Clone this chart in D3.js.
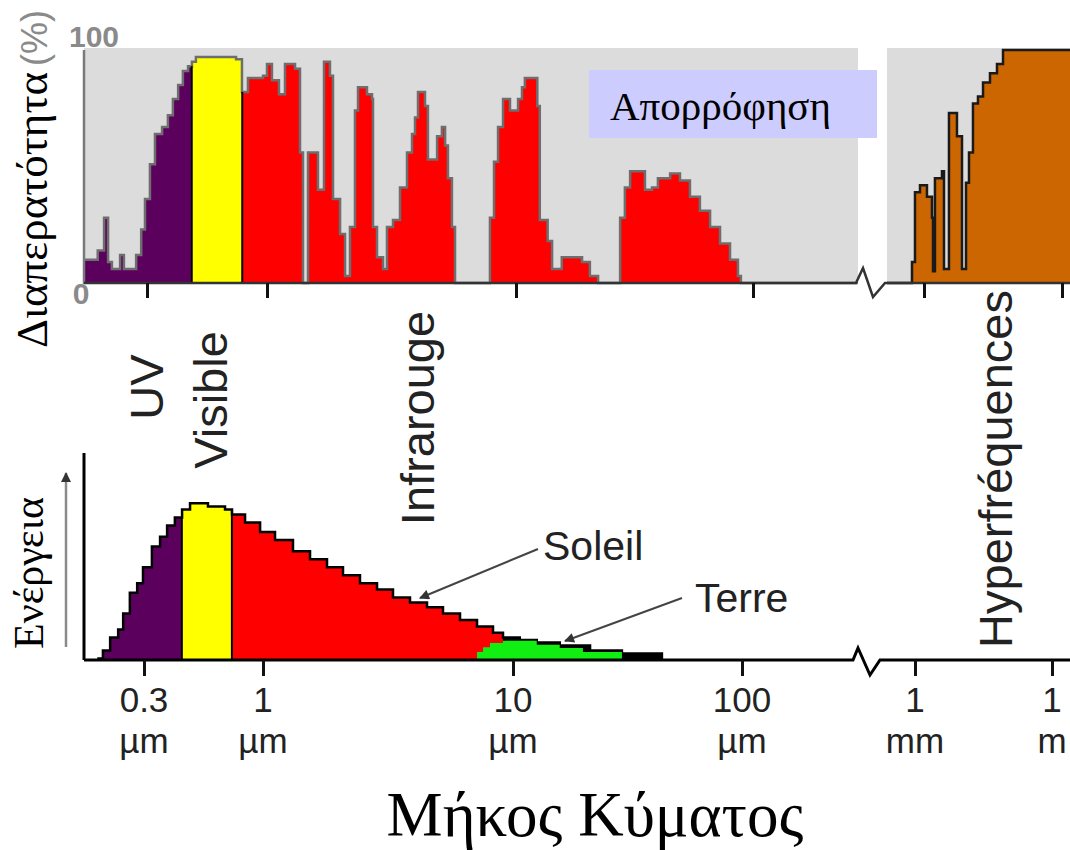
<!DOCTYPE html>
<html>
<head>
<meta charset="utf-8">
<script src="https://cdn.jsdelivr.net/npm/d3@7"></script>
<style>
  body { margin: 0; background: #fff; }
  svg { display: block; }
  .sans { font-family: "Liberation Sans", Arial, sans-serif; }
  .serif { font-family: "Liberation Serif", "Times New Roman", serif; }
</style>
</head>
<body>
<svg width="1070" height="850"></svg>
<script>
// atmospheric transmission, wavelength in µm, transmission in %
const transWl = [0.159, 0.183, 0.195, 0.203, 0.211, 0.229, 0.238, 0.269, 0.283, 0.294,
  0.309, 0.325, 0.349, 0.370, 0.389, 0.410, 0.430, 0.453, 0.471, 0.490, 0.553, 0.637,
  0.733, 0.778, 0.826, 0.961, 1.0, 1.047, 1.117, 1.181, 1.296, 1.357, 1.395, 1.461,
  1.602, 1.694, 1.79, 1.841, 1.965, 2.058, 2.154, 2.256, 2.32, 2.521, 2.641, 2.665,
  2.766, 2.924, 3.033, 3.206, 3.421, 3.65, 3.823, 3.93, 4.04, 4.31, 4.43, 4.82, 5.04,
  5.19, 5.33, 5.53, 5.69, 7.86, 8.16, 8.47, 8.87, 9.46, 10.2, 10.6, 10.9, 11.8, 12.3,
  12.6, 13.6, 14.2, 15.6, 19.0, 20.5, 22.2, 27.5, 28.8, 30.3, 35.0, 37.5, 39.7, 44.7,
  49.2, 54.2, 59.7, 65.9, 72.6, 80.0, 86.4, 88.9, 277];
const transPct = [10, 14, 28, 9, 6, 12, 6, 12, 23, 36,
  51, 64, 67, 72, 79, 85, 91, 93, 95, 97, 97, 97,
  96, 82, 88, 89, 94, 87, 81, 94, 92, 56, 0, 56,
  40, 95, 89, 36, 21, 3, 24, 74, 84, 81, 79, 24,
  11, 6, 24, 27, 41, 56, 64, 71, 82, 76, 53, 63, 67,
  59, 45, 24, 0, 28, 52, 67, 79, 74, 79, 84, 88, 88, 76,
  27, 18, 6, 11, 9, 3, 0, 28, 41, 48, 40, 41, 45, 47,
  44, 37, 31, 24, 17, 10, 3, 0, 0];

// microwave transmission, wavelength in mm
const microWl = [0.157, 0.548, 0.637, 0.819, 1.16, 1.49, 1.57, 1.73, 2.46, 2.72, 3.49,
  5.21, 6.70, 8.19, 9.51, 11.6, 14.9, 19.2, 27.2, 38.6, 52.2, 1500];
const microPct = [0, 9, 39, 42, 37, 28, 5, 45, 48, 6, 73,
  63, 6, 43, 56, 77, 80, 86, 90, 94, 100, 100];

// emitted energy (arbitrary units), wavelength in µm
const sunWl = [0.187, 0.198, 0.213, 0.231, 0.243, 0.260, 0.280, 0.297, 0.325, 0.353,
  0.379, 0.410, 0.441, 0.478, 0.573, 0.681, 0.731, 0.834, 0.971, 1.117, 1.318, 1.542,
  1.803, 2.089, 2.443, 2.858, 3.311, 3.873, 4.529, 5.248, 6.138, 7.178, 8.318, 9.12,
  10.7, 12.7, 16.0, 21.7, 29.9, 44.7];
const sunEnergy = [1, 6, 14, 19, 29, 42, 48, 58, 71, 77,
  84, 89, 94, 98, 96, 94, 91, 86, 80, 75, 68, 63,
  58, 53, 48, 44, 39, 36, 33, 29, 25, 21, 17, 14,
  12.5, 11, 9, 6, 4, 0];
const earthWl = [6.86, 7.18, 7.59, 8.09, 9.12, 12.7, 16.0, 20.2, 29.9];
const earthEnergy = [0, 5, 8, 10.6, 12, 9.5, 7.5, 5, 0];

// band edges (µm)
const visibleTop = [0.47, 0.78];
const visibleBottom = [0.44, 0.73];
const sunRedEnd = 9.12;

const tickWl = [0.3, 1, 10, 100];
const tickMm = [1, 1000];
const tickNum = ["0.3", "1", "10", "100", "1", "1"];
const tickUnit = ["µm", "µm", "µm", "µm", "mm", "m"];

const purple = "#5c005e", yellow = "#ffff00", red = "#ff0000",
      brown = "#cc6600", green = "#11ee11";

const svg = d3.select("svg");

const xTop = d3.scaleLog().domain([0.3, 1, 10, 100]).range([147, 267, 516, 753]);
const xTopMm = d3.scaleLog().domain([1, 1000]).range([924, 1062]);
const yTop = d3.scaleLinear().domain([0, 100]).range([283, 50]);

const xBot = d3.scaleLog().domain([0.3, 1, 10, 100]).range([144, 263, 513, 742]);
const xBotMm = d3.scaleLog().domain([1, 1000]).range([915, 1052]);
const yBot = d3.scaleLinear().domain([0, 100]).range([660, 500]);

const defs = svg.append("defs");
let clipId = 0;

// fill the area under a step curve, one colour per wavelength band
function bandAreas(pts, x, y, bands) {
    const area = d3.area().curve(d3.curveStepAfter)
        .x(d => x(d[0])).y0(y(0)).y1(d => y(d[1]));
    bands.forEach(b => {
        const id = "clip" + (clipId++);
        defs.append("clipPath").attr("id", id)
            .append("rect")
            .attr("x", x(b[0])).attr("y", 0)
            .attr("width", x(b[1]) - x(b[0])).attr("height", 850);
        svg.append("path").datum(pts)
            .attr("d", area)
            .attr("fill", b[2])
            .attr("clip-path", "url(#" + id + ")");
    });
}

function stepLine(pts, x, y, color, w) {
    svg.append("path").datum(pts)
        .attr("d", d3.line().curve(d3.curveStepAfter).x(d => x(d[0])).y(d => y(d[1])))
        .attr("fill", "none").attr("stroke", color).attr("stroke-width", w);
}

function valueAt(wl, vals, w) {
    const i = Math.max(0, d3.bisectRight(wl, w) - 1);
    return vals[i];
}

// ---- top panel : transmission ----
svg.append("rect").attr("x", 84).attr("y", 48).attr("width", 774).attr("height", 235).attr("fill", "#dcdcdc");
svg.append("rect").attr("x", 887).attr("y", 48).attr("width", 183).attr("height", 235).attr("fill", "#dcdcdc");

const transPts = d3.zip(transWl, transPct);
bandAreas(transPts, xTop, yTop, [
    [transWl[0], visibleTop[0], purple],
    [visibleTop[0], visibleTop[1], yellow],
    [visibleTop[1], transWl[transWl.length - 1], red]
]);
stepLine(transPts, xTop, yTop, "#6e6e6e", 2.5);
visibleTop.forEach(w => {
    svg.append("line")
        .attr("x1", xTop(w)).attr("x2", xTop(w))
        .attr("y1", yTop(0)).attr("y2", yTop(valueAt(transWl, transPct, w)))
        .attr("stroke", "#000").attr("stroke-width", 2);
});

const microPts = d3.zip(microWl, microPct);
bandAreas(microPts, xTopMm, yTop, [[microWl[0], microWl[microWl.length - 1], brown]]);
stepLine(microPts, xTopMm, yTop, "#1a1a1a", 2.5);

// top y axis and baseline with break
svg.append("line").attr("x1", 84).attr("x2", 84).attr("y1", 50).attr("y2", 284)
    .attr("stroke", "#7a7a7a").attr("stroke-width", 2.5);
svg.append("path")
    .attr("d", "M84,283H856L863,268L873,297L885,283H1070")
    .attr("fill", "none").attr("stroke", "#333").attr("stroke-width", 2.5);

svg.append("g").attr("transform", "translate(0,283)")
    .call(d3.axisBottom(xTop).tickValues(tickWl).tickSize(15).tickFormat(""))
    .call(g => g.select(".domain").remove())
    .selectAll("line").attr("stroke", "#111").attr("stroke-width", 3);
svg.append("g").attr("transform", "translate(0,283)")
    .call(d3.axisBottom(xTopMm).tickValues(tickMm).tickSize(15).tickFormat(""))
    .call(g => g.select(".domain").remove())
    .selectAll("line").attr("stroke", "#111").attr("stroke-width", 3);

svg.append("text").attr("class", "sans").attr("x", 94).attr("y", 47)
    .attr("text-anchor", "middle").attr("font-size", 30).attr("font-weight", "bold")
    .attr("fill", "#8a8a8a").text("100");
svg.append("text").attr("class", "sans").attr("x", 81).attr("y", 304)
    .attr("text-anchor", "middle").attr("font-size", 30).attr("font-weight", "bold")
    .attr("fill", "#8a8a8a").text("0");

svg.append("text").attr("class", "serif")
    .attr("transform", "translate(47,210) rotate(-90)")
    .attr("text-anchor", "middle").attr("font-size", 45).attr("fill", "#000")
    .text("Διαπερατότητα");
svg.append("text").attr("class", "sans")
    .attr("transform", "translate(47,38) rotate(-90)")
    .attr("text-anchor", "middle").attr("font-size", 36).attr("fill", "#8a8a8a")
    .text("(%)");

svg.append("rect").attr("x", 589).attr("y", 70).attr("width", 288).attr("height", 68)
    .attr("fill", "#ccccff");
svg.append("text").attr("class", "serif").attr("x", 610).attr("y", 120)
    .attr("font-size", 41).attr("fill", "#000").text("Απορρόφηση");

// ---- band names ----
const bandNames = [
    ["UV", 163, 387],
    ["Visible", 227, 400],
    ["Infrarouge", 434, 418],
    ["Hyperfréquences", 1012, 469]
];
svg.selectAll("text.band").data(bandNames).join("text")
    .attr("class", "band sans")
    .attr("transform", d => `translate(${d[1]},${d[2]}) rotate(-90)`)
    .attr("text-anchor", "middle").attr("font-size", 47).attr("fill", "#222")
    .text(d => d[0]);

// ---- bottom panel : energy ----
const sunPts = d3.zip(sunWl, sunEnergy);
bandAreas(sunPts, xBot, yBot, [
    [sunWl[0], visibleBottom[0], purple],
    [visibleBottom[0], visibleBottom[1], yellow],
    [visibleBottom[1], sunRedEnd, red],
    [sunRedEnd, sunWl[sunWl.length - 1], "#000"]
]);
stepLine(sunPts, xBot, yBot, "#000", 2.5);
visibleBottom.forEach(w => {
    svg.append("line")
        .attr("x1", xBot(w)).attr("x2", xBot(w))
        .attr("y1", yBot(0)).attr("y2", yBot(valueAt(sunWl, sunEnergy, w)))
        .attr("stroke", "#000").attr("stroke-width", 2);
});
const earthPts = d3.zip(earthWl, earthEnergy);
bandAreas(earthPts, xBot, yBot, [[earthWl[0], earthWl[earthWl.length - 1], green]]);

svg.append("path").attr("d", "M84,453V660")
    .attr("fill", "none").attr("stroke", "#000").attr("stroke-width", 3);
svg.append("path")
    .attr("d", "M84,660H853L858,648L870,675L880,660H1070")
    .attr("fill", "none").attr("stroke", "#000").attr("stroke-width", 3);

svg.append("g").attr("transform", "translate(0,660)")
    .call(d3.axisBottom(xBot).tickValues(tickWl).tickSize(16).tickFormat(""))
    .call(g => g.select(".domain").remove())
    .selectAll("line").attr("stroke", "#111").attr("stroke-width", 3);
svg.append("g").attr("transform", "translate(0,660)")
    .call(d3.axisBottom(xBotMm).tickValues(tickMm).tickSize(16).tickFormat(""))
    .call(g => g.select(".domain").remove())
    .selectAll("line").attr("stroke", "#111").attr("stroke-width", 3);

// two-line tick labels: number, then unit
const tickX = tickWl.map(w => xBot(w)).concat(tickMm.map(m => xBotMm(m)));
const lab = svg.selectAll("g.ticklab").data(tickX).join("g")
    .attr("class", "ticklab sans")
    .attr("font-size", 35).attr("fill", "#222").attr("text-anchor", "middle");
lab.append("text").attr("x", d => d).attr("y", 712).text((d, i) => tickNum[i]);
lab.append("text").attr("x", d => d).attr("y", 753).text((d, i) => tickUnit[i]);

// energy arrow on the left
defs.append("marker").attr("id", "head").attr("viewBox", "0 0 10 10")
    .attr("refX", 9).attr("refY", 5).attr("markerWidth", 12).attr("markerHeight", 10)
    .attr("markerUnits", "userSpaceOnUse").attr("orient", "auto")
    .append("path").attr("d", "M0,0L10,5L0,10z").attr("fill", "#333");
svg.append("line").attr("x1", 66).attr("x2", 66).attr("y1", 647).attr("y2", 473)
    .attr("stroke", "#8a8a8a").attr("stroke-width", 2.5).attr("marker-end", "url(#head)");
svg.append("text").attr("class", "serif")
    .attr("transform", "translate(43,573) rotate(-90)")
    .attr("text-anchor", "middle").attr("font-size", 42).attr("fill", "#000")
    .text("Ενέργεια");

// Soleil / Terre callouts
const callouts = [
    ["Soleil", 543, 560, [538, 549], [420, 598]],
    ["Terre", 695, 612, [682, 598], [565, 641]]
];
callouts.forEach(c => {
    svg.append("line").attr("x1", c[3][0]).attr("y1", c[3][1])
        .attr("x2", c[4][0]).attr("y2", c[4][1])
        .attr("stroke", "#444").attr("stroke-width", 2).attr("marker-end", "url(#head)");
    svg.append("text").attr("class", "sans").attr("x", c[1]).attr("y", c[2])
        .attr("font-size", 41).attr("fill", "#222").text(c[0]);
});

svg.append("text").attr("class", "serif").attr("x", 595).attr("y", 836)
    .attr("text-anchor", "middle").attr("font-size", 63).attr("fill", "#000")
    .text("Μήκος Κύματος");
</script>
</body>
</html>
